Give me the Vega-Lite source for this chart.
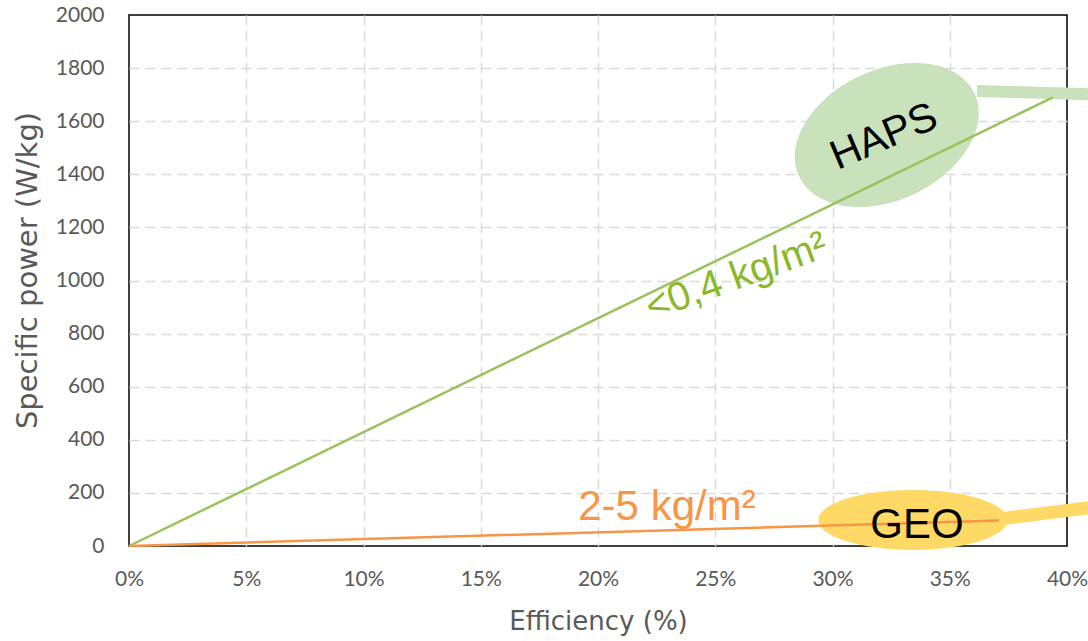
{
  "$schema": "https://vega.github.io/schema/vega-lite/v6.json",
  "width": 938,
  "height": 531,
  "autosize": {"type": "none"},
  "padding": {"left": 129, "top": 15, "right": 21, "bottom": 95},
  "background": "#ffffff",
  "config": {
    "view": {"stroke": "#000000", "strokeWidth": 1.5},
    "axis": {
      "grid": true,
      "gridColor": "#d9d9d9",
      "gridDash": [10, 6],
      "gridWidth": 1.5,
      "domain": false,
      "ticks": false,
      "tickSize": 0,
      "labelFont": "Lato",
      "labelFontSize": 21,
      "labelColor": "#595959",
      "titleFont": "DejaVu Sans",
      "titleColor": "#595959",
      "titleFontWeight": "normal"
    }
  },
  "datasets": {
    "lines": [
      {"series": "low", "eff": 0, "power": 0},
      {"series": "low", "eff": 39.4, "power": 1690},
      {"series": "high", "eff": 0, "power": 0},
      {"series": "high", "eff": 37.1, "power": 96}
    ],
    "ellipses": [
      {"name": "HAPS", "eff": 32.32, "power": 1548},
      {"name": "GEO", "eff": 33.43, "power": 98}
    ],
    "callouts": [
      {"name": "HAPS", "eff": 36.16, "power": 1714},
      {"name": "HAPS", "eff": 41.5, "power": 1700},
      {"name": "GEO", "eff": 36.8, "power": 98},
      {"name": "GEO", "eff": 41.5, "power": 151}
    ],
    "labels": [
      {"name": "HAPS", "text": "HAPS", "eff": 32.2, "power": 1540},
      {"name": "GEO", "text": "GEO", "eff": 33.6, "power": 79},
      {"name": "low", "text": "<0,4 kg/m²", "eff": 25.9, "power": 1013},
      {"name": "high", "text": "2-5 kg/m²", "eff": 22.94, "power": 147}
    ]
  },
  "encoding": {
    "x": {
      "field": "eff",
      "type": "quantitative",
      "scale": {"domain": [0, 40], "nice": false, "zero": false},
      "axis": {
        "title": "Efficiency (%)",
        "titleFontSize": 26,
        "values": [0, 5, 10, 15, 20, 25, 30, 35, 40],
        "labelExpr": "datum.value + '%'",
        "labelPadding": 22,
        "labelFlush": false,
        "labelOverlap": false,
        "gridOpacity": {"condition": {"test": "datum.value === 0 || datum.value === 40", "value": 0}, "value": 1},
        "titleY": 83,
        "titleBaseline": "alphabetic"
      }
    },
    "y": {
      "field": "power",
      "type": "quantitative",
      "scale": {"domain": [0, 2000], "nice": false},
      "axis": {
        "title": "Specific power (W/kg)",
        "titleFontSize": 29,
        "format": "d",
        "values": [0, 200, 400, 600, 800, 1000, 1200, 1400, 1600, 1800, 2000],
        "labelPadding": 25,
        "labelOverlap": false,
        "gridOpacity": {"condition": {"test": "datum.value === 0 || datum.value === 2000", "value": 0}, "value": 1},
        "titleX": -93,
        "titleY": 255,
        "titleBaseline": "alphabetic"
      }
    }
  },
  "layer": [
    {
      "data": {"name": "ellipses"},
      "transform": [{"filter": "datum.name === 'HAPS'"}],
      "mark": {
        "type": "point",
        "shape": "M -1 0 C -1 -0.37 -0.5523 -0.67 0 -0.67 C 0.5523 -0.67 1 -0.37 1 0 C 1 0.37 0.5523 0.67 0 0.67 C -0.5523 0.67 -1 0.37 -1 0 Z",
        "size": 37636,
        "filled": true,
        "color": "#c9e2bb",
        "opacity": 1,
        "strokeWidth": 0,
        "angle": 334.5
      }
    },
    {
      "data": {"name": "ellipses"},
      "transform": [{"filter": "datum.name === 'GEO'"}],
      "mark": {
        "type": "point",
        "shape": "M -1 0 C -1 -0.175 -0.5523 -0.317 0 -0.317 C 0.5523 -0.317 1 -0.175 1 0 C 1 0.175 0.5523 0.317 0 0.317 C -0.5523 0.317 -1 0.175 -1 0 Z",
        "size": 35721,
        "filled": true,
        "color": "#ffd966",
        "opacity": 1,
        "strokeWidth": 0
      }
    },
    {
      "data": {"name": "callouts"},
      "transform": [{"filter": "datum.name === 'HAPS'"}],
      "mark": {"type": "line", "color": "#c9e2bb", "strokeWidth": 12, "strokeCap": "butt"}
    },
    {
      "data": {"name": "callouts"},
      "transform": [{"filter": "datum.name === 'GEO'"}],
      "mark": {"type": "line", "color": "#ffd966", "strokeWidth": 13, "strokeCap": "butt"}
    },
    {
      "data": {"name": "lines"},
      "transform": [{"filter": "datum.series === 'low'"}],
      "mark": {"type": "line", "color": "#9bc25c", "strokeWidth": 2.5}
    },
    {
      "data": {"name": "lines"},
      "transform": [{"filter": "datum.series === 'high'"}],
      "mark": {"type": "line", "color": "#f79646", "strokeWidth": 2.5}
    },
    {
      "data": {"name": "labels"},
      "transform": [{"filter": "datum.name === 'HAPS'"}],
      "mark": {"type": "text", "font": "Liberation Sans", "fontSize": 41, "color": "#000000", "angle": 337, "align": "center", "baseline": "middle"},
      "encoding": {"text": {"field": "text"}}
    },
    {
      "data": {"name": "labels"},
      "transform": [{"filter": "datum.name === 'GEO'"}],
      "mark": {"type": "text", "font": "Liberation Sans", "fontSize": 42, "color": "#000000", "align": "center", "baseline": "middle"},
      "encoding": {"text": {"field": "text"}}
    },
    {
      "data": {"name": "labels"},
      "transform": [{"filter": "datum.name === 'low'"}],
      "mark": {"type": "text", "font": "Liberation Sans", "fontSize": 40, "color": "#8ab82a", "angle": 340, "align": "center", "baseline": "middle"},
      "encoding": {"text": {"field": "text"}}
    },
    {
      "data": {"name": "labels"},
      "transform": [{"filter": "datum.name === 'high'"}],
      "mark": {"type": "text", "font": "Liberation Sans", "fontSize": 42, "color": "#f79646", "align": "center", "baseline": "middle"},
      "encoding": {"text": {"field": "text"}}
    }
  ]
}
